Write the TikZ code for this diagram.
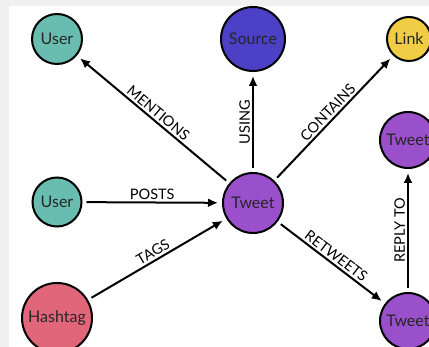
\documentclass[tikz,border=0pt]{standalone}
\usepackage{fontspec}
\setmainfont{Lato}
\usetikzlibrary{arrows.meta}

\definecolor{usercol}{HTML}{68BDB0}
\definecolor{sourcecol}{HTML}{4B40C6}
\definecolor{linkcol}{HTML}{F0CD45}
\definecolor{tweetcol}{HTML}{9A4FCB}
\definecolor{hashcol}{HTML}{E26679}

\begin{document}
\begin{tikzpicture}[x=1pt, y=-1pt, line width=2pt, font=\fontsize{16}{18}\selectfont]
        \tikzstyle{edge}=[-{Latex[length=10pt,width=9pt]}]
        \tikzstyle{entity}=[circle, draw=black, line width=2pt, inner sep=0pt, outer sep=5pt, text=black!85]
        \tikzstyle{rel}=[above, sloped, font=\fontsize{14.5}{16}\selectfont, inner sep=2pt]

        % page and the grey strip at the left and top
        \fill[black!6] (0,0) rectangle (429,347);
        \fill[white] (9,6) rectangle (429,347);
        \useasboundingbox (0,0) rectangle (429,347);

        \node[entity, fill=usercol, minimum size=50pt] (U-1) at (57,39) {User};
        \node[entity, fill=sourcecol, minimum size=64pt] (S) at (253,39) {Source};
        \node[entity, fill=linkcol, minimum size=44pt] (L) at (409,39) {Link};

        \node[entity, fill=usercol, minimum size=49pt] (U-2) at (57,202) {User};
        \node[entity, fill=tweetcol, minimum size=60pt] (T) at (253,203) {Tweet};
        \node[entity, fill=tweetcol, minimum size=56pt] (T-1) at (408,140) {Tweet};

        \node[entity, fill=hashcol, minimum size=70pt] (H) at (57,318) {Hashtag};
        \node[entity, fill=tweetcol, minimum size=56pt] (T-2) at (408,321) {Tweet};

        \path[edge]
            (T) edge node[rel] {MENTIONS} (U-1)
            (T) edge node[rel] {USING} (S)
            (T) edge node[rel] {CONTAINS} (L)
            (U-2) edge node[rel] {POSTS} (T)
            (H) edge node[rel] {TAGS} (T)
            (T) edge node[rel] {RETWEETS} (T-2)
            (T-2) edge node[rel] {REPLY TO} (T-1)
        ;
    \end{tikzpicture}
\end{document}
